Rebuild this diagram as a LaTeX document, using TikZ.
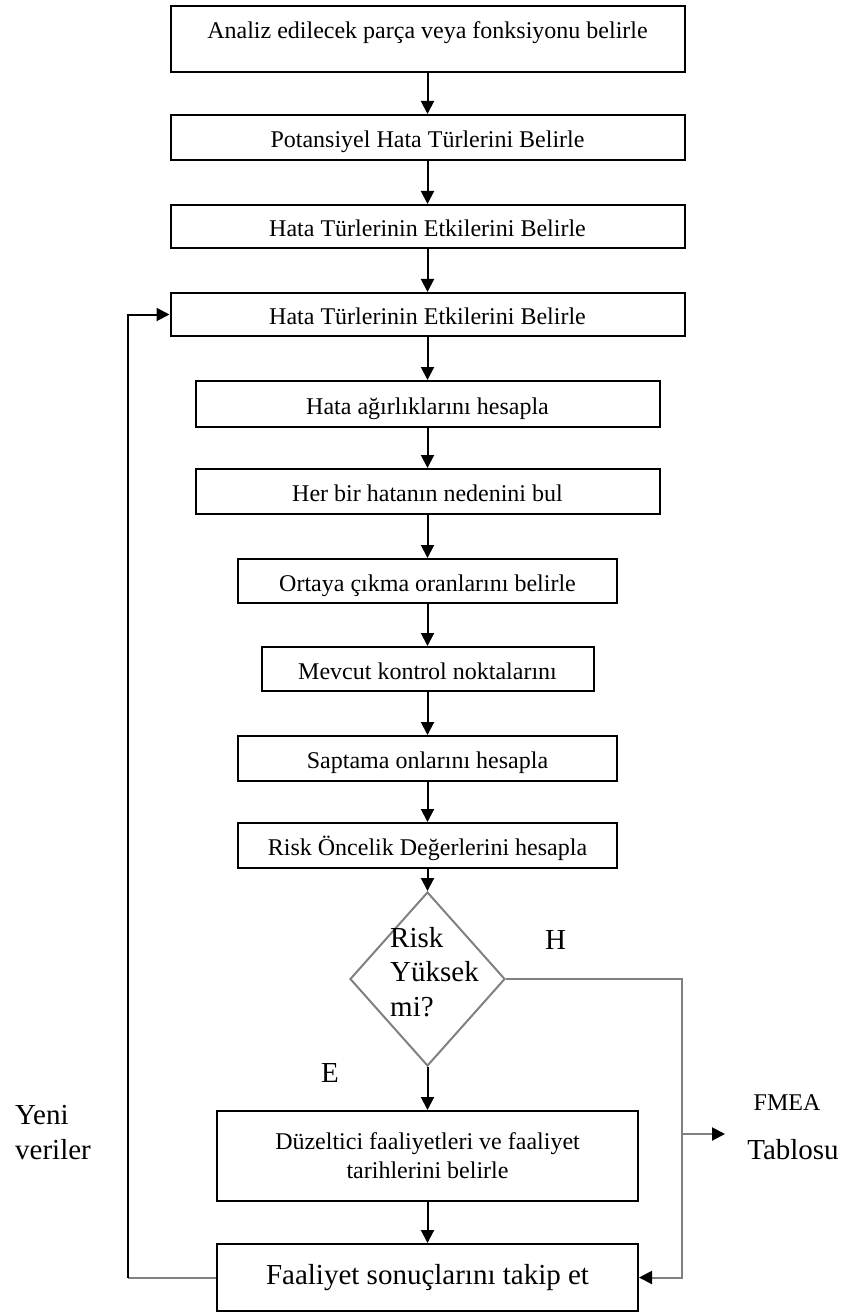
\documentclass[tikz,border=0pt]{standalone}
\usepackage{fontspec}
\setmainfont{Liberation Serif}
\usetikzlibrary{arrows.meta,shapes.geometric}
\definecolor{linegray}{RGB}{128,128,128}

\begin{document}
\begin{tikzpicture}
[x=1pt,y=-1pt,>={Triangle[width=13pt,length=13pt]},
box/.style={draw,line width=2pt,inner sep=0pt,font=\fontsize{24}{29}\selectfont},
stage/.style={box,text height=20pt,text depth=0pt},
decision/.style={diamond,draw=linegray,line width=2pt,inner sep=0pt,minimum width=155pt,minimum height=174pt},
note/.style={inner sep=0pt,font=\fontsize{29}{34.5}\selectfont},
flow/.style={->,line width=2pt},
back/.style={line width=2pt,draw=linegray},
graytip/.style={-{Triangle[width=13pt,length=13pt,color=black]}},]

\useasboundingbox (0,0) rectangle (844,1313);

%Center line of the chart
\def\cx{427.5}

%Boxes
\node (S1) at (\cx,39)[stage,minimum width=514pt,minimum height=66pt,text height=17pt,text depth=17pt] {Analiz edilecek parça veya fonksiyonu belirle};
\node (S2) at (\cx,137.5)[stage,minimum width=514pt,minimum height=45pt] {Potansiyel Hata Türlerini Belirle};
\node (S3) at (\cx,226.5)[stage,minimum width=514pt,minimum height=43pt] {Hata Türlerinin Etkilerini Belirle};
\node (S4) at (\cx,314.5)[stage,minimum width=514pt,minimum height=43pt] {Hata Türlerinin Etkilerini Belirle};
\node (S5) at (\cx,404)[stage,minimum width=464pt,minimum height=46pt] {Hata ağırlıklarını hesapla};
\node (S6) at (\cx,491.5)[stage,minimum width=464pt,minimum height=45pt] {Her bir hatanın nedenini bul};
\node (S7) at (\cx,581)[stage,minimum width=379pt,minimum height=44pt] {Ortaya çıkma oranlarını belirle};
\node (S8) at (\cx,669)[stage,minimum width=332pt,minimum height=44pt] {Mevcut kontrol noktalarını};
\node (S9) at (\cx,758.5)[stage,minimum width=379pt,minimum height=45pt] {Saptama onlarını hesapla};
\node (S10) at (\cx,845.5)[stage,minimum width=379pt,minimum height=45pt] {Risk Öncelik Değerlerini hesapla};

%Decision
\node (Dec) at (\cx,979)[decision] {};
\node (DecT) at (390,972)[note,anchor=west,align=left] {Risk\\Yüksek\\mi?};
\node (H) at (555.5,939.5)[note] {H};
\node (E) at (330,1072.5)[note] {E};

%Lower boxes
\node (Dz) at (\cx,1156)[box,minimum width=421pt,minimum height=90pt,align=center] {Düzeltici faaliyetleri ve faaliyet\\tarihlerini belirle};
\node (Fs) at (\cx,1277.5)[box,minimum width=421pt,minimum height=67pt,font=\fontsize{29}{35}\selectfont] {Faaliyet sonuçlarını takip et};

%Side texts
\node (Yv) at (15,1132.5)[note,anchor=west,align=left] {Yeni\\veriler};
\node (Fm) at (787,1103)[inner sep=0pt,font=\fontsize{24}{29}\selectfont] {FMEA};
\node (Tb) at (793,1150)[note] {Tablosu};

%Turning points
\coordinate (Lt) at (128,1277.5);
\coordinate (Rt) at (682,1277.5);
\coordinate (Tap) at (682,1134);
\coordinate (Out) at (725,1134);

%Drawing arrows
\draw[flow] (S1) -- (S2);
\draw[flow] (S2) -- (S3);
\draw[flow] (S3) -- (S4);
\draw[flow] (S4) -- (S5);
\draw[flow] (S5) -- (S6);
\draw[flow] (S6) -- (S7);
\draw[flow] (S7) -- (S8);
\draw[flow] (S8) -- (S9);
\draw[flow] (S9) -- (S10);
\draw[flow] (S10) -- (Dec);
\draw[flow] (Dec) -- (Dz);
\draw[flow] (Dz) -- (Fs);

%Feedback loop
\draw[back] (Fs.west) -- (Lt);
\draw[flow] (Lt) |- (S4.west);

%No branch
\draw[back,graytip] (Dec.east) -| (Rt) -- (Fs.east);
\draw[back,graytip] (Tap) -- (Out);

\end{tikzpicture}
\end{document}
